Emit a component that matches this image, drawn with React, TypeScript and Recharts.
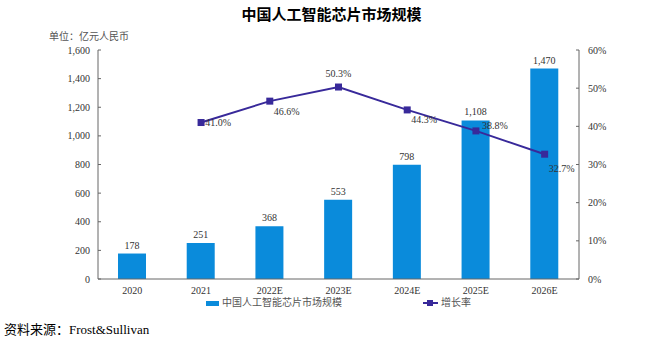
import React from 'react';
import { ComposedChart, Bar, Line, XAxis, YAxis, LabelList } from 'recharts';

const categories = ['2020', '2021', '2022E', '2023E', '2024E', '2025E', '2026E'];
const marketSize = [178, 251, 368, 553, 798, 1108, 1470];
const growthRate: (number | null)[] = [null, 41.0, 46.6, 50.3, 44.3, 38.8, 32.7];
const leftTicks = [0, 200, 400, 600, 800, 1000, 1200, 1400, 1600];
const rightTicks = [0, 10, 20, 30, 40, 50, 60];

const data = categories.map((c, i) => ({ name: c, size: marketSize[i], rate: growthRate[i] }));

const SERIF = '"Liberation Serif", "Noto Sans CJK SC", serif';
const BAR = '#0A8BDB';
const LINE = '#38299A';

const rateOffsets: Record<number, [number, number]> = {
  1: [17, 0],
  2: [17, 10],
  3: [0, -14],
  4: [17, 10],
  5: [19, -5],
  6: [17, 14],
};

const RateLabel = (props: any) => {
  const { x, y, value, index } = props;
  if (value == null) return null;
  const [dx, dy] = rateOffsets[index] || [0, -10];
  return (
    <text x={x + dx} y={y + dy} dy={3.5} textAnchor="middle" fontSize={10} fontFamily={SERIF} fill="#333">
      {value.toFixed(1)}%
    </text>
  );
};

const LegendBlock = () => (
  <div style={{ position: 'absolute', left: 0, top: 296, width: 663, height: 16, fontFamily: SERIF, fontSize: 10, color: '#555' }}>
    <div style={{ position: 'absolute', left: 206, top: 5, width: 13, height: 5, background: BAR }} />
    <div style={{ position: 'absolute', left: 222, top: 0, whiteSpace: 'nowrap', lineHeight: '14px' }}>中国人工智能芯片市场规模</div>
    <div style={{ position: 'absolute', left: 423, top: 6, width: 15, height: 2, background: LINE }} />
    <div style={{ position: 'absolute', left: 427, top: 4, width: 6, height: 6, background: LINE }} />
    <div style={{ position: 'absolute', left: 441, top: 0, whiteSpace: 'nowrap', lineHeight: '14px' }}>增长率</div>
  </div>
);

export default function App() {
  return (
    <div style={{ position: 'absolute', left: 0, top: 0, width: 663, height: 342, background: '#fff', fontFamily: SERIF }}>
      <div style={{ position: 'absolute', left: 0, top: 4, width: 663, textAlign: 'center', fontSize: 15, fontWeight: 'bold', color: '#000', fontFamily: '"Noto Sans CJK SC", sans-serif', lineHeight: '20px' }}>
        中国人工智能芯片市场规模
      </div>
      <div style={{ position: 'absolute', left: 49, top: 30, fontSize: 10, color: '#555', fontFamily: SERIF, lineHeight: '14px' }}>
        单位：亿元人民币
      </div>
      <ComposedChart
        width={663}
        height={342}
        data={data}
        margin={{ top: 50, right: 44, bottom: 43, left: 48 }}
      >
        <XAxis
          dataKey="name"
          tick={{ fontSize: 10, fontFamily: SERIF, fill: '#333' }}
          tickLine={false}
          axisLine={{ stroke: '#666' }}
          tickMargin={2}
          height={20}
        />
        <YAxis
          yAxisId="left"
          domain={[0, 1600]}
          ticks={leftTicks}
          tickFormatter={(v: number) => v.toLocaleString('en-US')}
          tick={{ fontSize: 10, fontFamily: SERIF, fill: '#333' }}
          tickLine={{ stroke: '#666' }}
          tickSize={-3}
          axisLine={{ stroke: '#666' }}
          tickMargin={11}
          width={50}
          interval={0}
        />
        <YAxis
          yAxisId="right"
          orientation="right"
          domain={[0, 60]}
          ticks={rightTicks}
          tickFormatter={(v: number) => `${v}%`}
          tick={{ fontSize: 10, fontFamily: SERIF, fill: '#333', textAnchor: 'start' }}
          tickLine={{ stroke: '#666' }}
          tickSize={-3}
          axisLine={{ stroke: '#666' }}
          tickMargin={12}
          width={40}
          interval={0}
        />
        <Bar yAxisId="left" dataKey="size" fill={BAR} barSize={28} isAnimationActive={false}>
          <LabelList
            dataKey="size"
            position="top"
            offset={5}
            formatter={(v: any) => Number(v).toLocaleString('en-US')}
            style={{ fontSize: 10, fontFamily: SERIF, fill: '#333' }}
          />
        </Bar>
        <Line
          yAxisId="right"
          dataKey="rate"
          stroke={LINE}
          strokeWidth={2}
          isAnimationActive={false}
          connectNulls={false}
          dot={(p: any) => (p.value == null ? <g key={p.index} /> : <rect key={p.index} x={p.cx - 3.5} y={p.cy - 3.5} width={7} height={7} fill={LINE} />)}
          activeDot={false}
        >
          <LabelList dataKey="rate" content={<RateLabel />} />
        </Line>
      </ComposedChart>
      <LegendBlock />
      <div style={{ position: 'absolute', left: 4, top: 321, fontSize: 13, color: '#000', fontFamily: SERIF, lineHeight: '18px', whiteSpace: 'nowrap' }}>
        资料来源：Frost&amp;Sullivan
      </div>
    </div>
  );
}
